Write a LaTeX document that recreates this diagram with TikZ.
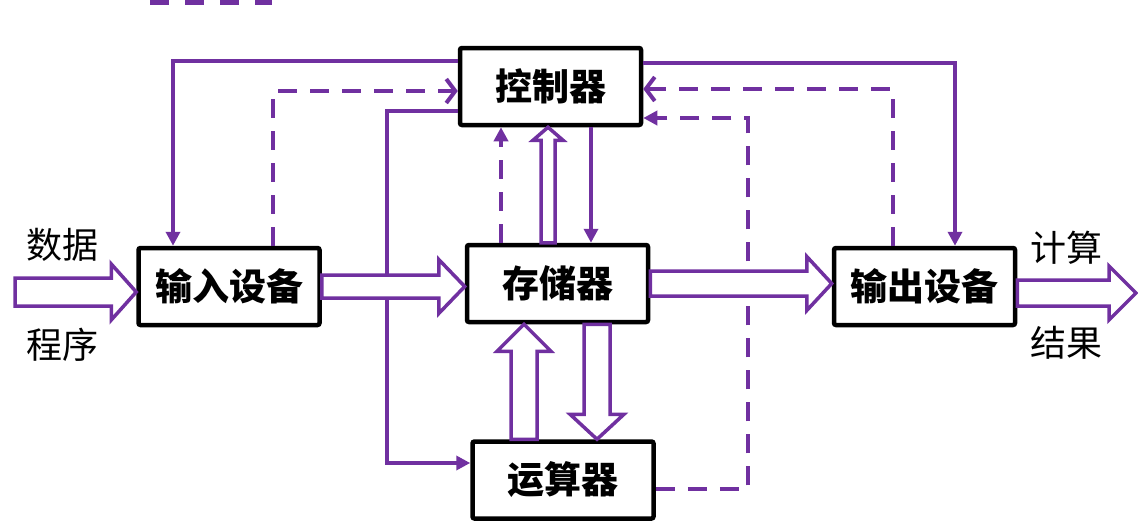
\documentclass[tikz,border=0pt]{standalone}
\usepackage{fontspec}
\usetikzlibrary{positioning,arrows.meta,calc}
\newfontfamily\cjk{Noto Sans CJK SC}
\definecolor{flowpurple}{RGB}{112,48,160}

\newcommand{\fatarrow}[5]{%
  \coordinate (fa) at ($(#2)!#5!(#1)$);
  \draw[fat] ($(#1)!#3!90:(#2)$) -- ($(fa)!#3!90:(#2)$) -- ($(fa)!#4!90:(#2)$)
    -- (#2) -- ($(fa)!#4!-90:(#2)$) -- ($(fa)!#3!-90:(#2)$) -- ($(#1)!#3!-90:(#2)$) -- cycle;}

\begin{document}
\begin{tikzpicture}[x=1pt,y=-1pt,
  box/.style={draw=black,line width=4.5pt,rounded corners=2pt,fill=white,
    minimum width=181pt,minimum height=77pt,inner sep=0pt,
    font={\cjk\bfseries\fontsize{37}{40}\selectfont}},
  lbl/.style={font={\cjk\fontsize{36}{40}\selectfont},inner sep=0pt},
  link/.style={draw=flowpurple,line width=4pt},
  ctl/.style={link,-{Triangle[length=14pt,width=14pt]}},
  ctlbarb/.style={link,-{Straight Barb[length=9pt,width=24pt,line width=4pt]}},
  dashedlink/.style={dash pattern=on 19pt off 13pt},
  fat/.style={draw=flowpurple,line width=3.5pt,fill=white,line join=miter}]
\useasboundingbox (0,0) rectangle (1138,520);

% legend remnant at the top
\draw[flowpurple,line width=9pt,dash pattern=on 19pt off 16pt] (150,0) -- (272,0);

\node[box] (ctrl)   at (550.5,86.5) {控制器};
\node[box] (input)  at (229,286.5)  {输入设备};
\node[box] (mem)    at (557.5,283.5) {存储器};
\node[box] (output) at (924.5,286.5) {输出设备};
\node[box] (alu)    at (563,480)    {运算器};

\node[lbl] (data) at (62,245)   {数据};
\node[lbl] (prog) at (62,345)   {程序};
\node[lbl] (comp) at (1066,248) {计算};
\node[lbl] (res)  at (1066,343) {结果};

% control lines
\draw[ctl] (ctrl.west |- 0,61) -| (173,0 |- input.north);
\draw[ctlbarb,dashedlink] (273,0 |- input.north) |- (ctrl.west |- 0,91);
\draw[ctl] (ctrl.west |- 0,111) -| (387,463) -- (alu.west |- 0,463);
\draw[ctl,dashedlink] (501,0 |- mem.north) -- (501,0 |- ctrl.south);
\draw[ctl] (591,0 |- ctrl.south) -- (591,0 |- mem.north);
\draw[ctl] (ctrl.east |- 0,63) -| (955,0 |- output.north);
\draw[ctlbarb,dashedlink] (893,0 |- output.north) |- (ctrl.east |- 0,89);
\draw[ctl,dashedlink] (alu.east |- 0,489) -| (748,118) -- (ctrl.east |- 0,118);

% data flow
\coordinate (src) at (15,292);
\coordinate (dst) at (1136,293);
\coordinate (upA) at (524,0 |- alu.north);
\coordinate (upB) at (524,0 |- mem.south);
\coordinate (dnA) at (597,0 |- mem.south);
\coordinate (dnB) at (597,0 |- alu.north);
\coordinate (ucA) at (548,0 |- mem.north);
\coordinate (ucB) at (548,0 |- ctrl.south);

\fatarrow{src}{input.west |- src}{14pt}{28pt}{25pt}
\fatarrow{input.east}{mem.west |- input.east}{11.5pt}{27pt}{26pt}
\fatarrow{mem.east}{output.west |- mem.east}{12.5pt}{27pt}{25pt}
\fatarrow{output.east |- dst}{dst}{13pt}{27pt}{27pt}
\fatarrow{upA}{upB}{13pt}{27pt}{27pt}
\fatarrow{dnA}{dnB}{13pt}{27pt}{25pt}
\fatarrow{ucA}{ucB}{7pt}{15pt}{13pt}
\end{tikzpicture}
\end{document}
